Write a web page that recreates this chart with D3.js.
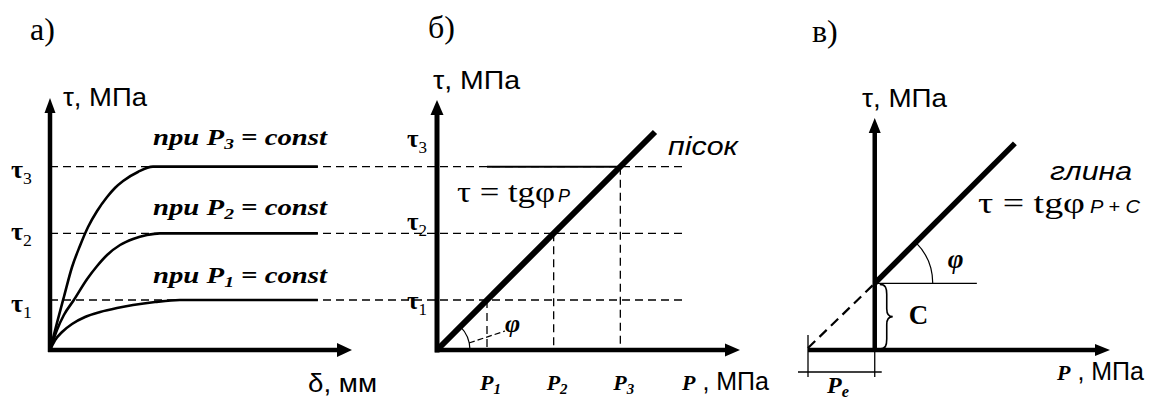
<!DOCTYPE html>
<html>
<head>
<meta charset="utf-8">
<script src="https://cdn.jsdelivr.net/npm/d3@7"></script>
<style>
  body { margin: 0; background: #fff; }
  svg { display: block; }
  .serif { font-family: "Liberation Serif", "Times New Roman", serif; }
  .sans { font-family: "Liberation Sans", Arial, sans-serif; }
</style>
</head>
<body>
<svg id="chart" width="1160" height="403"></svg>
<script>
// ---------- data ----------
// shear strength levels τ1..τ3 and the normal pressures P1..P3 that produce them
const tauLevels = [0.75, 1.75, 2.75];
const pLevels = [0.75, 1.75, 2.75];
const tauTickNames = ["1", "2", "3"];
const pTickNames = ["1", "2", "3"];

// shear stress vs. displacement curves (δ, τ) for P1, P2, P3 = const
const curveDelta1 = [0, 0.17, 0.4, 0.73, 1.16, 1.66, 2.22, 2.75, 3.48, 4.3, 8.87];
const curveTau1   = [0, 0.15, 0.27, 0.39, 0.495, 0.57, 0.63, 0.675, 0.72, 0.75, 0.75];
const curveDelta2 = [0, 0.23, 0.46, 0.79, 1.23, 1.56, 1.89, 2.32, 2.75, 3.21, 3.64, 8.87];
const curveTau2   = [0, 0.3, 0.525, 0.75, 1.065, 1.26, 1.425, 1.575, 1.665, 1.725, 1.75, 1.75];
const curveDelta3 = [0, 0.23, 0.46, 0.73, 0.99, 1.26, 1.56, 1.89, 2.15, 2.42, 2.91, 3.41, 8.87];
const curveTau3   = [0, 0.405, 0.795, 1.245, 1.56, 1.845, 2.085, 2.295, 2.43, 2.535, 2.67, 2.75, 2.75];

// Coulomb envelope for sand: τ = tgφ·P
const tanPhiSand = 1;
const sandPMax = 3.27;
// Coulomb envelope for clay: τ = tgφ·P + C
const tanPhiClay = 1;
const cohesion = 1;
const clayPMax = 2.1;
const pe = -cohesion / tanPhiClay;   // pressure of connectivity Pe

// ---------- setup ----------
const svg = d3.select("#chart");
svg.append("rect").attr("width", 1160).attr("height", 403).attr("fill", "#fff");

const xA = d3.scaleLinear().domain([0, 10]).range([50, 352]);
const yA = d3.scaleLinear().domain([0, 3.75]).range([350, 100]);
const xB = d3.scaleLinear().domain([0, 4.545]).range([437, 740]);
const yB = yA;
const xC = d3.scaleLinear().domain([-1, 3.525]).range([808, 1110]);
const yC = d3.scaleLinear().domain([0, 3.48]).range([350, 118]);

const DASH = "8,5";

function seg(g, x1, y1, x2, y2, w, dash) {
  const l = g.append("line")
    .attr("x1", x1).attr("y1", y1).attr("x2", x2).attr("y2", y2)
    .attr("stroke", "#000").attr("stroke-width", w);
  if (dash) l.attr("stroke-dasharray", dash);
  return l;
}

// axis line with a filled arrowhead at (x2, y2)
function arrowAxis(g, x1, y1, x2, y2, w, len, half) {
  const a = Math.atan2(y2 - y1, x2 - x1);
  const bx = x2 - len * Math.cos(a), by = y2 - len * Math.sin(a);
  seg(g, x1, y1, bx + Math.cos(a), by + Math.sin(a), w);
  const px = -Math.sin(a) * half, py = Math.cos(a) * half;
  g.append("path")
    .attr("d", `M${x2},${y2}L${bx + px},${by + py}L${bx - px},${by - py}Z`)
    .attr("fill", "#000");
}

// text built from parts; parts flagged "sub" are lowered and shrunk
function label(g, x, y, parts, opts) {
  const t = g.append("text")
    .attr("x", x).attr("y", y)
    .attr("class", opts.cls || "serif")
    .attr("font-size", opts.size)
    .attr("fill", "#000");
  if (opts.weight) t.attr("font-weight", opts.weight);
  if (opts.style) t.attr("font-style", opts.style);
  if (opts.anchor) t.attr("text-anchor", opts.anchor);
  if (opts.len) t.attr("textLength", opts.len).attr("lengthAdjust", "spacingAndGlyphs");
  let shift = 0;
  parts.forEach(p => {
    const s = t.append("tspan").text(p.t);
    const want = p.sub ? (p.shift || 5) : 0;
    if (want !== shift) { s.attr("dy", want - shift); shift = want; }
    if (p.sub) s.attr("font-size", p.size || opts.size * 0.68);
    if (p.size && !p.sub) s.attr("font-size", p.size);
    if (p.weight) s.attr("font-weight", p.weight);
    if (p.style) s.attr("font-style", p.style);
    if (p.cls) s.attr("class", p.cls);
  });
  return t;
}

// ---------- shared dashed τ levels ----------
const gLevels = svg.append("g");
tauLevels.forEach(t => seg(gLevels, xA(0), yA(t), xB(3.75), yA(t), 1.3, DASH));

// ---------- panel а: τ vs δ ----------
const gA = svg.append("g");
const curveLine = d3.line().x(d => xA(d[0])).y(d => yA(d[1])).curve(d3.curveMonotoneX);
[[curveDelta1, curveTau1], [curveDelta2, curveTau2], [curveDelta3, curveTau3]].forEach(([ds, ts]) => {
  gA.append("path")
    .attr("d", curveLine(ds.map((d, i) => [d, ts[i]])))
    .attr("fill", "none").attr("stroke", "#000").attr("stroke-width", 2.6);
});
arrowAxis(gA, xA(0), yA(0) + 2, xA(0), yA(3.78), 4.5, 15, 5.5);
arrowAxis(gA, xA(0) - 2, yA(0), xA(10), yA(0), 4.5, 15, 7);

const tickDyA = [12, 7, 11];
tauLevels.forEach((t, i) => {
  label(gA, xA(0) - 39, yA(t) + tickDyA[i],
    [{ t: "τ" }, { t: tauTickNames[i], sub: true, weight: "normal", shift: 6 }],
    { size: 26, weight: "bold" });
});
const constDy = [-17, -18, -22];
tauLevels.forEach((t, i) => {
  label(gA, 153, yA(t) + constDy[i],
    [{ t: "npu " }, { t: "P" }, { t: pTickNames[i], sub: true, shift: 4 }, { t: " = const" }],
    { size: 23, weight: "bold", style: "italic", len: 174 });
});
label(gA, 63, 106, [{ t: "τ, МПа" }], { cls: "sans", size: 25, len: 84 });
label(gA, 308, 392, [{ t: "δ, мм" }], { cls: "sans", size: 25, len: 69 });
label(gA, 30, 40, [{ t: "а)" }], { size: 32 });

// ---------- panel б: sand ----------
const gB = svg.append("g");
pLevels.forEach(p => seg(gB, xB(p), yB(p * tanPhiSand), xB(p), yB(0), 1.3, DASH));
seg(gB, xB(pLevels[0]), yB(tauLevels[2]), xB(pLevels[2]), yB(tauLevels[2]), 2);

// angle φ at the origin with its leader
const arcB = d3.path();
arcB.arc(xB(0), yB(0), 33, -Math.atan(tanPhiSand), 0);
gB.append("path").attr("d", arcB.toString()).attr("fill", "none").attr("stroke", "#000").attr("stroke-width", 1.2);
seg(gB, xB(0) + 32, yB(0) - 7, xB(0) + 68, yB(0) - 19, 1.2, "6,3");
label(gB, xB(0) + 68, yB(0) - 18, [{ t: "φ" }], { size: 26, weight: "bold", style: "italic" });

gB.append("line")
  .attr("x1", xB(0)).attr("y1", yB(0))
  .attr("x2", xB(sandPMax)).attr("y2", yB(sandPMax * tanPhiSand))
  .attr("stroke", "#000").attr("stroke-width", 6);

arrowAxis(gB, xB(0), yB(0) + 2.5, xB(0), yB(3.75), 5, 15, 6.5);
arrowAxis(gB, xB(0) - 2, yB(0), xB(4.545), yB(0), 4.5, 15, 6.5);

const tickDyB = [9, -3, -20];
tauLevels.forEach((t, i) => {
  label(gB, xB(0) - 30, yB(t) + tickDyB[i],
    [{ t: "τ" }, { t: tauTickNames[i], sub: true, weight: "normal", shift: 6 }],
    { size: 25, weight: "bold" });
});
pLevels.forEach((p, i) => {
  label(gB, xB(p) - 7, 390,
    [{ t: "P" }, { t: pTickNames[i], sub: true, shift: 4 }],
    { size: 22, weight: "bold", style: "italic" });
});
label(gB, 682, 390, [{ t: "P", cls: "serif", weight: "bold", style: "italic", size: 22 }, { t: " , МПа" }],
  { cls: "sans", size: 25 });
label(gB, 433, 89, [{ t: "τ, МПа" }], { cls: "sans", size: 25, len: 87 });
label(gB, 668, 155, [{ t: "пісок" }], { cls: "sans", size: 25, style: "italic", len: 70 });
label(gB, 457, 202, [{ t: "τ = tgφ" }], { size: 30, len: 98 });
label(gB, 558, 202, [{ t: "P" }], { cls: "sans", size: 18, style: "italic" });
label(gB, 428, 38, [{ t: "б)" }], { size: 32 });

// ---------- panel в: clay ----------
const gC = svg.append("g");
seg(gC, xC(pe), yC(0) - 2, xC(0), yC(cohesion), 2.2, "10,6");
seg(gC, xC(0), yC(cohesion), xC(1.53), yC(cohesion), 1.3);
const arcC = d3.path();
arcC.arc(xC(0), yC(cohesion), 58, -Math.atan(tanPhiClay), 0);
gC.append("path").attr("d", arcC.toString()).attr("fill", "none").attr("stroke", "#000").attr("stroke-width", 1.2);

arrowAxis(gC, xC(0), yC(0) + 2, xC(0), yC(3.48), 4.5, 15, 6);
arrowAxis(gC, xC(pe), yC(0), xC(3.525), yC(0), 4.5, 15, 6);

gC.append("line")
  .attr("x1", xC(0)).attr("y1", yC(cohesion))
  .attr("x2", xC(clayPMax)).attr("y2", yC(cohesion + clayPMax * tanPhiClay))
  .attr("stroke", "#000").attr("stroke-width", 5.5);

// brace spanning the cohesion C
{
  const y1 = yC(cohesion) + 1, y2 = yC(0) - 1, ym = (y1 + y2) / 2, x0 = xC(0) + 5;
  const d = `M${x0},${y1}C${x0 + 6},${y1} ${x0 + 7},${y1 + 4} ${x0 + 7},${y1 + 10}` +
    `L${x0 + 7},${ym - 8}C${x0 + 7},${ym - 2} ${x0 + 9},${ym} ${x0 + 13},${ym}` +
    `C${x0 + 9},${ym} ${x0 + 7},${ym + 2} ${x0 + 7},${ym + 8}` +
    `L${x0 + 7},${y2 - 10}C${x0 + 7},${y2 - 4} ${x0 + 6},${y2} ${x0},${y2}`;
  gC.append("path").attr("d", d).attr("fill", "none").attr("stroke", "#000").attr("stroke-width", 1.6);
}
label(gC, xC(0) + 34, yC(cohesion / 2) + 7, [{ t: "C" }], { size: 27, weight: "bold" });
label(gC, xC(0) + 73, yC(cohesion) - 15, [{ t: "φ" }], { size: 27, weight: "bold", style: "italic" });

// dimension for Pe
seg(gC, xC(pe) - 10, 372, xC(0) + 7, 372, 1.3);
seg(gC, xC(pe), 335, xC(pe), 377, 1.3);
seg(gC, xC(0), yC(0), xC(0), 377, 1.3);
label(gC, 827, 393, [{ t: "P" }, { t: "e", sub: true, shift: 4 }], { size: 24, weight: "bold", style: "italic" });

label(gC, 862, 107, [{ t: "τ, МПа" }], { cls: "sans", size: 25, len: 85 });
label(gC, 1050, 180, [{ t: "глина" }], { cls: "sans", size: 25, style: "italic", len: 82 });
label(gC, 978, 213, [{ t: "τ = tgφ" }], { size: 30, len: 107 });
label(gC, 1090, 213, [{ t: "P + C" }], { cls: "sans", size: 19, style: "italic", len: 50 });
label(gC, 1057, 380, [{ t: "P", cls: "serif", weight: "bold", style: "italic", size: 22 }, { t: " , МПа" }],
  { cls: "sans", size: 25 });
label(gC, 812, 42, [{ t: "в)" }], { size: 32 });
</script>
</body>
</html>
